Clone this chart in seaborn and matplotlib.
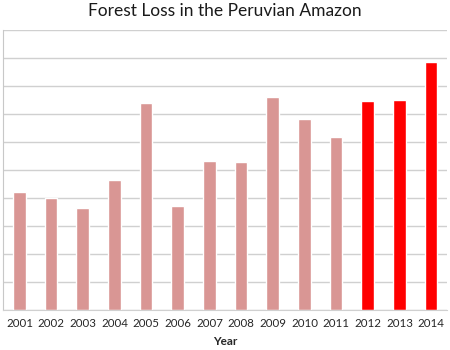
import matplotlib
matplotlib.use("Agg")
import matplotlib.pyplot as plt
import seaborn as sns
import pandas as pd

years = ["2001", "2002", "2003", "2004", "2005", "2006", "2007",
         "2008", "2009", "2010", "2011", "2012", "2013", "2014"]
loss = [4.20, 4.00, 3.63, 4.64, 7.38, 3.71, 5.31,
        5.30, 7.61, 6.81, 6.18, 7.46, 7.51, 8.87]
period = ["before"] * 11 + ["recent"] * 3
colors = {"before": "#d99694", "recent": "#ff0000"}

df = pd.DataFrame({"Year": years, "Loss": loss, "Period": period})

sns.set_style("white")
plt.rcParams["font.family"] = ["Lato", "DejaVu Sans"]

fig = plt.figure(figsize=(4.5, 3.5), dpi=100)
ax = fig.add_axes([3 / 450, 1 - 310 / 350, 444 / 450, 280 / 350])

sns.barplot(data=df, x="Year", y="Loss", hue="Period", palette=colors,
            dodge=False, width=0.4, legend=False, ax=ax, saturation=1)

ax.set_ylim(0, 10)
ax.set_xlim(-0.52, 13.5)
ax.set_yticks(range(0, 11))
ax.set_yticklabels([])
ax.tick_params(axis="y", length=0)
ax.tick_params(axis="x", length=0, labelsize=8.3, pad=6, colors="#262626")
ax.yaxis.grid(True, color="#d0d0d0", linewidth=1)
ax.set_axisbelow(True)
for s in ["top", "right"]:
    ax.spines[s].set_visible(False)
ax.spines["left"].set_color("#c8c8c8")
ax.spines["bottom"].set_color("#d0d0d0")
ax.set_ylabel("")
ax.set_xlabel("Year", fontsize=8.5, fontweight="bold", labelpad=5, color="#262626")
fig.suptitle("Forest Loss in the Peruvian Amazon", x=0.5, y=0.99,
             fontsize=12.5, color="#1a1a1a")

fig.savefig("out.png", dpi=100)
